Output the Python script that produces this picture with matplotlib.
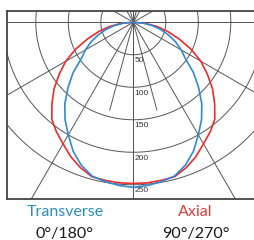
import numpy as np
import matplotlib
matplotlib.use('Agg')
import matplotlib.pyplot as plt

# Angulos desde el nadir (grados) e intensidades
angulos = [0, 5, 10, 15, 20, 25, 30, 35, 40, 45, 50, 55, 60, 65, 70, 75, 80, 85, 90]
transversal = [254, 252, 249, 245, 234, 219, 200, 183, 164, 142, 121, 98, 85, 72, 58, 44, 30, 15, 0]
axial = [248, 248, 247, 246, 238, 228, 216, 206, 195, 177, 159, 139, 120, 98, 75, 55, 37, 18, 0]

circulos = [50, 100, 150, 200, 250]
radios_largos = [0, 30, 60, 90]
radios_cortos = [15]

azul = '#2f8ad6'
rojo = '#ec2b2b'
gris = '#555555'

fig = plt.figure(figsize=(2.55, 2.4), dpi=100)
ax = fig.add_axes([7 / 255, 1 - 199 / 240, 248 / 255, 188.3 / 240])
ax.set_xlim(-194.3, 187.2)
ax.set_ylim(-271.9, 17.8)
ax.set_xticks([])
ax.set_yticks([])
for lado in ['left', 'top', 'bottom']:
    ax.spines[lado].set_color('#444444')
    ax.spines[lado].set_linewidth(1.3)
ax.spines['right'].set_visible(False)

# circulos de la grilla
t = np.linspace(0, 2 * np.pi, 400)
for c in circulos:
    ax.plot(c * np.cos(t), c * np.sin(t), color=gris, lw=0.7, zorder=1)
    ax.text(2, -c - 4, str(c), fontsize=6, family='Liberation Sans',
            color='#333333', ha='left', va='top', zorder=2)

# radios
L = 600
for a in radios_largos:
    r = np.radians(a)
    for s in [1, -1]:
        ax.plot([-s * L * np.sin(r), s * L * np.sin(r)],
                [L * np.cos(r), -L * np.cos(r)], color=gris, lw=0.7, zorder=1)
for a in radios_cortos:
    r = np.radians(a)
    for s in [1, -1]:
        ax.plot([-s * 40 * np.sin(r), s * 140 * np.sin(r)],
                [40 * np.cos(r), -140 * np.cos(r)], color=gris, lw=0.7, zorder=1)


# curvas (simetricas respecto a la vertical)
def curva(vals):
    ang = np.radians(np.array(angulos))
    v = np.array(vals)
    x = np.concatenate([-v[::-1] * np.sin(ang[::-1]), v[1:] * np.sin(ang[1:])])
    y = np.concatenate([-v[::-1] * np.cos(ang[::-1]), -v[1:] * np.cos(ang[1:])])
    return x, y


xa, ya = curva(axial)
xt, yt = curva(transversal)
ax.plot(xa, ya, color=rojo, lw=1.2, zorder=3)
ax.plot(xt, yt, color=azul, lw=1.2, zorder=3)

fuente = 'Lato'
fig.text(65 / 255, 1 - 215.7 / 240, 'Transverse', color='#2a8fc4', fontsize=11.5,
         family=fuente, ha='center', va='baseline')
fig.text(195 / 255, 1 - 215.7 / 240, 'Axial', color='#e03c3c', fontsize=11.5,
         family=fuente, ha='center', va='baseline')
fig.text(65 / 255, 1 - 238 / 240, '0°/180°', color='#1a1a1a', fontsize=11.5,
         family=fuente, ha='center', va='baseline')
fig.text(196 / 255, 1 - 238 / 240, '90°/270°', color='#1a1a1a', fontsize=11.5,
         family=fuente, ha='center', va='baseline')

fig.savefig('out.png', dpi=100)
